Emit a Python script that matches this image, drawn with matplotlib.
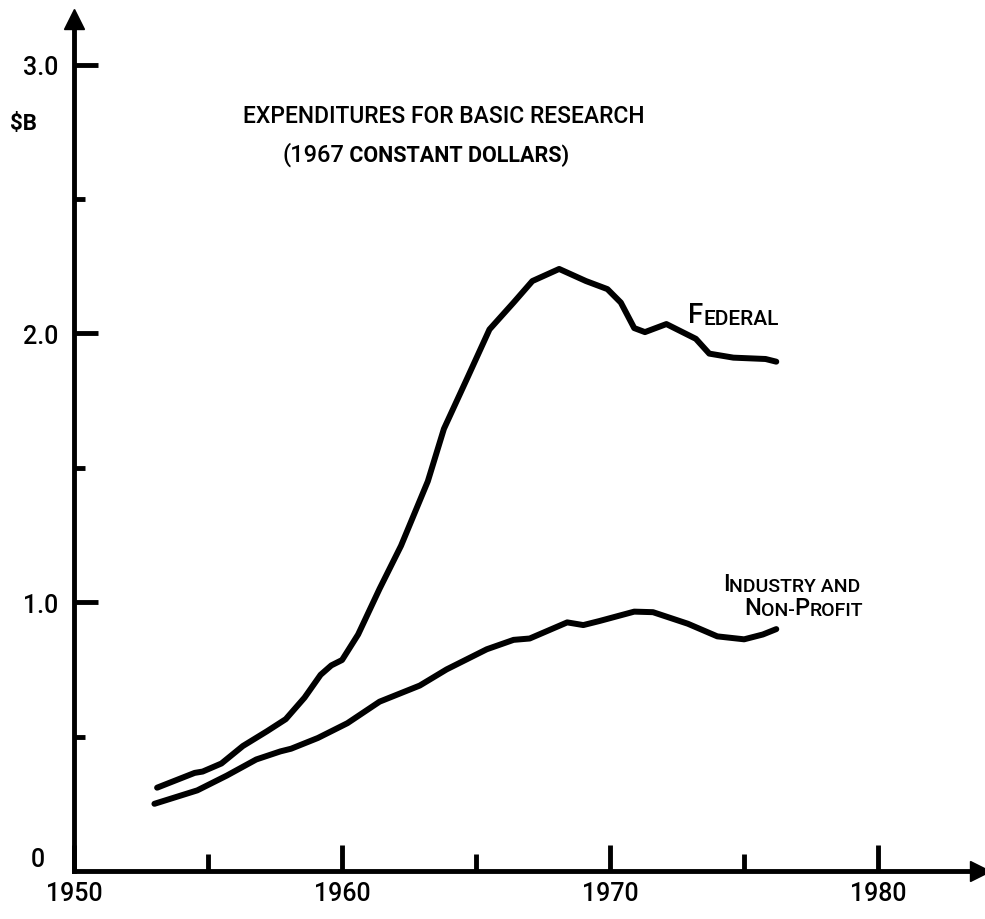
import matplotlib
matplotlib.use("Agg")
import matplotlib.pyplot as plt

# values, $B in 1967 dollars
fed_years = [1953.1, 1954.5, 1954.8, 1955.5, 1956.3, 1957.2, 1957.9, 1958.6, 1959.2,
             1959.6, 1960.0, 1960.6, 1961.4, 1962.2, 1962.7, 1963.2, 1963.8, 1964.7,
             1965.5, 1966.4, 1967.1, 1968.1, 1969.1, 1969.9, 1970.4, 1970.9, 1971.3,
             1972.1, 1972.5, 1973.2, 1973.7, 1974.6, 1975.8, 1976.2]
fed_vals = [0.31, 0.365, 0.37, 0.40, 0.465, 0.52, 0.565, 0.645, 0.73,
            0.765, 0.785, 0.88, 1.05, 1.21, 1.33, 1.45, 1.645, 1.84,
            2.015, 2.115, 2.195, 2.24, 2.195, 2.165, 2.115, 2.02, 2.005,
            2.035, 2.015, 1.98, 1.925, 1.91, 1.905, 1.895]

ind_years = [1953.0, 1954.6, 1955.7, 1956.8, 1957.7, 1958.1, 1959.1, 1960.2, 1961.4,
             1962.9, 1963.9, 1965.4, 1966.4, 1967.0, 1968.4, 1969.0, 1969.6, 1970.9,
             1971.6, 1972.9, 1974.0, 1975.0, 1975.7, 1976.2]
ind_vals = [0.25, 0.30, 0.355, 0.415, 0.445, 0.455, 0.495, 0.55, 0.63,
            0.69, 0.75, 0.825, 0.86, 0.865, 0.925, 0.915, 0.93, 0.965,
            0.963, 0.92, 0.873, 0.862, 0.88, 0.90]

x_major = [1950, 1960, 1970, 1980]
x_minor = [1955, 1965, 1975]
y_major = [1, 2, 3]
y_major_labels = ["1.0", "2.0", "3.0"]
y_minor = [0.5, 1.5, 2.5]

plt.rcParams["font.family"] = ["Roboto", "DejaVu Sans"]
plt.rcParams["font.weight"] = "medium"

fig = plt.figure(figsize=(9.85, 9.2), dpi=100)
ax = fig.add_axes([74 / 985, 48 / 920, 906 / 985, 852 / 920])
ax.set_xlim(1950, 1983.8)
ax.set_ylim(0, 3.17)

ax.plot(fed_years, fed_vals, color="black", lw=4.3,
        solid_capstyle="round", solid_joinstyle="round")
ax.plot(ind_years, ind_vals, color="black", lw=4.3,
        solid_capstyle="round", solid_joinstyle="round")

# hand-drawn style axes
for side in ["top", "right"]:
    ax.spines[side].set_visible(False)
for side in ["left", "bottom"]:
    ax.spines[side].set_linewidth(3.5)

ax.plot([0], [1], marker="^", ms=14, color="black", transform=ax.transAxes, clip_on=False)
ax.plot([1], [0], marker=">", ms=14, color="black", transform=ax.transAxes, clip_on=False)

ax.set_xticks(x_major)
ax.set_xticks(x_minor, minor=True)
ax.set_yticks(y_major, labels=y_major_labels)
ax.set_yticks(y_minor, minor=True)
ax.tick_params(axis="x", which="major", direction="in", length=19, width=3.5,
               pad=7, labelsize=18)
ax.tick_params(axis="x", which="minor", direction="in", length=12, width=3.5)
ax.tick_params(axis="y", which="major", direction="in", length=17, width=3.5,
               pad=11.5, labelsize=18)
ax.tick_params(axis="y", which="minor", direction="in", length=8, width=3.5)

# the zero sits a bit higher and closer than the other labels
ax.text(1948.9, 0.0, "0", fontsize=18, ha="right", va="bottom", clip_on=False)


def caps_text(x, y, parts, weight="medium"):
    # small-caps look: first piece big, following pieces chained after it
    prev = ax.text(x, y, parts[0][0], fontsize=parts[0][1], va="baseline",
                   ha="left", weight=weight)
    for s, size in parts[1:]:
        prev = ax.annotate(s, xy=(1, 0), xycoords=prev, fontsize=size,
                           va="bottom", ha="left", weight=weight)
    return prev


ax.text(1956.3, 2.787, "EXPENDITURES FOR BASIC RESEARCH", fontsize=16.5, va="baseline")
caps_text(1957.76, 2.642, [("(1967", 17)])
first = ax.texts[-1]
ax.annotate(" CONSTANT DOLLARS)", xy=(1, 0), xycoords=first, fontsize=15.5,
            va="bottom", weight="bold")

ax.text(1947.6, 2.761, "$B", fontsize=16, weight="bold", va="baseline", clip_on=False)

caps_text(1972.9, 2.044, [("F", 20), ("EDERAL", 15)])
caps_text(1974.2, 1.045, [("I", 17), ("NDUSTRY AND", 14)])
caps_text(1975.0, 0.955, [("N", 17), ("ON-", 14), ("P", 17), ("ROFIT", 14)])

fig.savefig("out.png", dpi=100)
